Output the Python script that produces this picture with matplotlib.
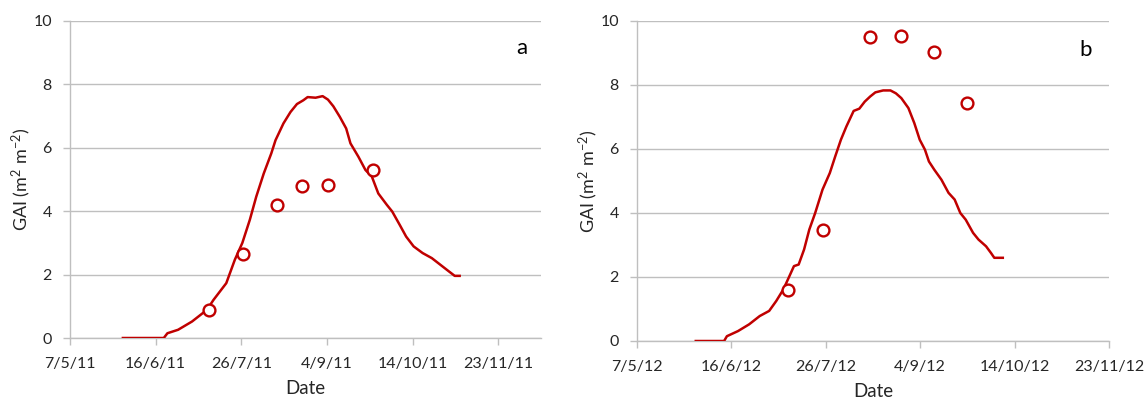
import matplotlib
matplotlib.use('Agg')

import matplotlib.pyplot as plt
import matplotlib.dates as mdates
import numpy as np
import pandas as pd

plt.rcParams['font.family'] = ['Lato', 'DejaVu Sans']
plt.rcParams['mathtext.fontset'] = 'custom'
plt.rcParams['mathtext.rm'] = 'Lato'
plt.rcParams['mathtext.it'] = 'Lato:italic'

red = "#C00000"
grid_col = "#BFBFBF"
text_col = "#262626"

# day offsets from the axis origin (7 May of each year) and simulated GAI
start_a = "2011-05-07"
sim_days_a = [24.7, 43.8, 45.5, 50.5, 57, 64, 67, 73, 77, 80.5, 84, 87, 90.5, 94, 96, 99.7,
              103, 106, 109, 111, 114.7, 118, 120.5, 123, 126, 129, 131, 134.7, 138, 141,
              144, 148, 150.5, 154, 157, 160.5, 164.7, 169, 173, 177, 179.7, 182]
sim_gai_a = [0, 0, 0.15, 0.26, 0.52, 0.89, 1.2, 1.73, 2.47, 3.0, 3.73, 4.46, 5.19, 5.82, 6.24, 6.77,
             7.13, 7.38, 7.5, 7.6, 7.58, 7.63, 7.52, 7.31, 6.98, 6.61, 6.14, 5.72, 5.3, 5.09,
             4.56, 4.2, 3.99, 3.57, 3.2, 2.89, 2.68, 2.52, 2.31, 2.1, 1.96, 1.96]
obs_days_a = [65, 80.8, 96.7, 108.5, 120.7, 141.7]
obs_gai_a = [0.87, 2.64, 4.18, 4.81, 4.83, 5.29]

start_b = "2012-05-07"
sim_days_b = [24.9, 36.9, 38.1, 42.8, 47.5, 52, 56, 59, 62, 64.6, 66.5, 68.5, 70.8, 73, 75.5,
              78.6, 81.7, 84, 86.4, 88.7, 91.8, 94.2, 96.5, 98.8, 101, 104.3, 107.4, 109.7,
              112, 115, 117.5, 119.8, 122, 123.7, 126, 129, 132, 134.6, 137, 139.3, 142.4,
              144.7, 147.9, 150, 151.4, 155]
sim_gai_b = [0, 0, 0.15, 0.31, 0.52, 0.78, 0.94, 1.25, 1.61, 2.03, 2.34, 2.39, 2.86, 3.48, 4.0,
             4.73, 5.25, 5.77, 6.29, 6.7, 7.19, 7.26, 7.48, 7.64, 7.77, 7.83, 7.83, 7.74,
             7.59, 7.28, 6.81, 6.29, 5.98, 5.61, 5.35, 5.04, 4.63, 4.42, 4.0, 3.79, 3.38,
             3.17, 2.96, 2.75, 2.6, 2.6]
obs_days_b = [63.8, 78.9, 98.8, 111.8, 125.8, 139.8]
obs_gai_b = [1.58, 3.48, 9.51, 9.53, 9.04, 7.45]

# letter, origin, data, axis span in days, box in pixels (left, right, top, bottom), letter pos
panels = [
    ("a", start_a, sim_days_a, sim_gai_a, obs_days_a, obs_gai_a, 220, [70, 541, 21, 338], (0.96, 0.915)),
    ("b", start_b, sim_days_b, sim_gai_b, obs_days_b, obs_gai_b, 200, [637, 1109, 21, 341], (0.95, 0.91)),
]

W, H = 1145, 399
fig = plt.figure(figsize=(W / 100.0, H / 100.0), dpi=100)


def date_label(x, pos=None):
    d = mdates.num2date(x)
    return "%d/%d/%s" % (d.day, d.month, d.strftime("%y"))


for letter, start, sd, sg, od, og, span, box, lpos in panels:
    l, r, t, b = box
    ax = fig.add_axes([l / W, 1 - b / H, (r - l) / W, (b - t) / H])
    x0 = mdates.date2num(pd.Timestamp(start))
    ax.plot(x0 + np.array(sd), sg, color=red, lw=1.8, zorder=3)
    ax.plot(x0 + np.array(od), og, 'o', mfc='white', mec=red, mew=1.7, ms=8.5,
            ls='none', zorder=4)

    ax.set_xlim(x0, x0 + span)
    ax.set_ylim(0, 10)
    ax.set_xticks(x0 + np.arange(0, 201, 40))
    ax.xaxis.set_major_formatter(plt.FuncFormatter(date_label))
    ax.set_yticks(np.arange(0, 11, 2))

    ax.yaxis.grid(True, color=grid_col, lw=1.0)
    ax.set_axisbelow(True)
    for s in ['top', 'right']:
        ax.spines[s].set_visible(False)
    for s in ['left', 'bottom']:
        ax.spines[s].set_color(grid_col)
        ax.spines[s].set_linewidth(1.0)
    ax.tick_params(axis='both', colors=grid_col, labelcolor=text_col, labelsize=11.5,
                   length=5, width=1.0)
    ax.tick_params(axis='x', pad=9)
    ax.tick_params(axis='y', pad=8)

    ax.set_ylabel(r'GAI (m$^{2}$ m$^{-2}$)', fontsize=13, color=text_col, labelpad=0)
    ax.set_xlabel('Date', fontsize=13.5, color=text_col, labelpad=6)
    ax.text(lpos[0], lpos[1], letter, transform=ax.transAxes, fontsize=16, color='black',
            ha='center', va='center')

fig.savefig('out.png', dpi=100)
